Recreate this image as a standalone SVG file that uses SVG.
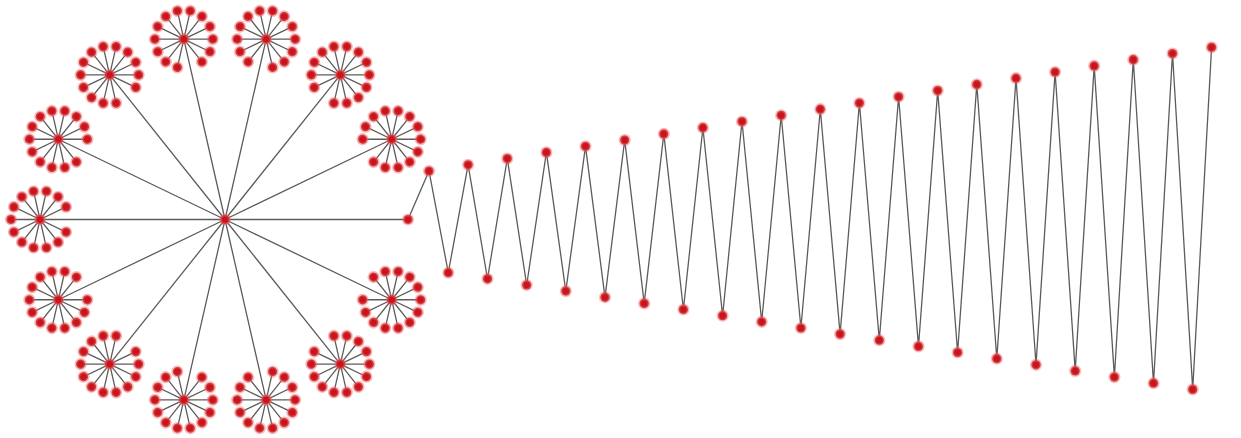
<svg xmlns="http://www.w3.org/2000/svg" xmlns:xlink="http://www.w3.org/1999/xlink" width="1241" height="438" viewBox="0 0 1241 438">
<style>
.e{stroke:#5c5c5c;stroke-width:1.3;fill:none}
.n{fill:#c8141c;stroke:#ec6b6b;stroke-opacity:0.45;stroke-width:3}
</style>
<defs>
<g id="fe">
<path class="e" d="M0 0L26.13 12.58M0 0L18.08 22.67M0 0L6.45 28.27M0 0L-6.45 28.27M0 0L-18.08 22.67M0 0L-26.13 12.58M0 0L-29 0M0 0L-26.13 -12.58M0 0L-18.08 -22.67M0 0L-6.45 -28.27M0 0L6.45 -28.27M0 0L18.08 -22.67M0 0L26.13 -12.58"/>
</g>
<g id="fn">
<circle class="n" cx="0" cy="0" r="4.6"/>
<circle class="n" cx="26.13" cy="12.58" r="4.6"/>
<circle class="n" cx="18.08" cy="22.67" r="4.6"/>
<circle class="n" cx="6.45" cy="28.27" r="4.6"/>
<circle class="n" cx="-6.45" cy="28.27" r="4.6"/>
<circle class="n" cx="-18.08" cy="22.67" r="4.6"/>
<circle class="n" cx="-26.13" cy="12.58" r="4.6"/>
<circle class="n" cx="-29" cy="0" r="4.6"/>
<circle class="n" cx="-26.13" cy="-12.58" r="4.6"/>
<circle class="n" cx="-18.08" cy="-22.67" r="4.6"/>
<circle class="n" cx="-6.45" cy="-28.27" r="4.6"/>
<circle class="n" cx="6.45" cy="-28.27" r="4.6"/>
<circle class="n" cx="18.08" cy="-22.67" r="4.6"/>
<circle class="n" cx="26.13" cy="-12.58" r="4.6"/>
</g>
</defs>
<rect width="1241" height="438" fill="#ffffff"/>
<g id="connectors">
<path class="e" d="M225 219.5L408 219.5M225 219.5L391.68 299.77M225 219.5L340.35 364.14M225 219.5L266.17 399.86M225 219.5L183.83 399.86M225 219.5L109.65 364.14M225 219.5L58.32 299.77M225 219.5L40 219.5M225 219.5L58.32 139.23M225 219.5L109.65 74.86M225 219.5L183.83 39.14M225 219.5L266.17 39.14M225 219.5L340.35 74.86M225 219.5L391.68 139.23"/>
<use xlink:href="#fe" transform="translate(391.68 299.77) rotate(205.714)"/>
<use xlink:href="#fe" transform="translate(340.35 364.14) rotate(231.429)"/>
<use xlink:href="#fe" transform="translate(266.17 399.86) rotate(257.143)"/>
<use xlink:href="#fe" transform="translate(183.83 399.86) rotate(282.857)"/>
<use xlink:href="#fe" transform="translate(109.65 364.14) rotate(308.571)"/>
<use xlink:href="#fe" transform="translate(58.32 299.77) rotate(334.286)"/>
<use xlink:href="#fe" transform="translate(40 219.5)"/>
<use xlink:href="#fe" transform="translate(58.32 139.23) rotate(25.714)"/>
<use xlink:href="#fe" transform="translate(109.65 74.86) rotate(51.429)"/>
<use xlink:href="#fe" transform="translate(183.83 39.14) rotate(77.143)"/>
<use xlink:href="#fe" transform="translate(266.17 39.14) rotate(102.857)"/>
<use xlink:href="#fe" transform="translate(340.35 74.86) rotate(128.571)"/>
<use xlink:href="#fe" transform="translate(391.68 139.23) rotate(154.286)"/>
<polyline class="e" points="408,219.5 429,171 448.3,272.7 468.1,164.8 487.5,278.8 507.3,158.6 526.7,285 546.4,152.4 565.8,291.1 585.5,146.3 605,297.3 624.7,140.1 644.2,303.4 663.8,133.9 683.4,309.5 702.9,127.7 722.6,315.7 742,121.5 761.7,321.8 781.2,115.3 800.9,328 820.3,109.2 840.1,334.1 859.4,103 879.3,340.2 898.6,96.8 918.5,346.4 937.7,90.6 957.6,352.5 976.8,84.4 996.8,358.7 1016,78.2 1036,364.8 1055.1,72 1075.2,370.9 1094.2,65.9 1114.4,377.1 1133.3,59.7 1153.5,383.2 1172.5,53.5 1192.7,389.4 1211.6,47.3"/>
</g>
<g id="nodes">
<g id="hub"><circle class="n" cx="225" cy="219.5" r="4.6"/></g>
<g id="flower1"><use xlink:href="#fn" transform="translate(391.68 299.77) rotate(205.714)"/></g>
<g id="flower2"><use xlink:href="#fn" transform="translate(340.35 364.14) rotate(231.429)"/></g>
<g id="flower3"><use xlink:href="#fn" transform="translate(266.17 399.86) rotate(257.143)"/></g>
<g id="flower4"><use xlink:href="#fn" transform="translate(183.83 399.86) rotate(282.857)"/></g>
<g id="flower5"><use xlink:href="#fn" transform="translate(109.65 364.14) rotate(308.571)"/></g>
<g id="flower6"><use xlink:href="#fn" transform="translate(58.32 299.77) rotate(334.286)"/></g>
<g id="flower7"><use xlink:href="#fn" transform="translate(40 219.5)"/></g>
<g id="flower8"><use xlink:href="#fn" transform="translate(58.32 139.23) rotate(25.714)"/></g>
<g id="flower9"><use xlink:href="#fn" transform="translate(109.65 74.86) rotate(51.429)"/></g>
<g id="flower10"><use xlink:href="#fn" transform="translate(183.83 39.14) rotate(77.143)"/></g>
<g id="flower11"><use xlink:href="#fn" transform="translate(266.17 39.14) rotate(102.857)"/></g>
<g id="flower12"><use xlink:href="#fn" transform="translate(340.35 74.86) rotate(128.571)"/></g>
<g id="flower13"><use xlink:href="#fn" transform="translate(391.68 139.23) rotate(154.286)"/></g>
<g id="chain">
<circle class="n" cx="408" cy="219.5" r="4.6"/>
<circle class="n" cx="429" cy="171" r="4.6"/>
<circle class="n" cx="448.3" cy="272.7" r="4.6"/>
<circle class="n" cx="468.1" cy="164.8" r="4.6"/>
<circle class="n" cx="487.5" cy="278.8" r="4.6"/>
<circle class="n" cx="507.3" cy="158.6" r="4.6"/>
<circle class="n" cx="526.7" cy="285" r="4.6"/>
<circle class="n" cx="546.4" cy="152.4" r="4.6"/>
<circle class="n" cx="565.8" cy="291.1" r="4.6"/>
<circle class="n" cx="585.5" cy="146.3" r="4.6"/>
<circle class="n" cx="605" cy="297.3" r="4.6"/>
<circle class="n" cx="624.7" cy="140.1" r="4.6"/>
<circle class="n" cx="644.2" cy="303.4" r="4.6"/>
<circle class="n" cx="663.8" cy="133.9" r="4.6"/>
<circle class="n" cx="683.4" cy="309.5" r="4.6"/>
<circle class="n" cx="702.9" cy="127.7" r="4.6"/>
<circle class="n" cx="722.6" cy="315.7" r="4.6"/>
<circle class="n" cx="742" cy="121.5" r="4.6"/>
<circle class="n" cx="761.7" cy="321.8" r="4.6"/>
<circle class="n" cx="781.2" cy="115.3" r="4.6"/>
<circle class="n" cx="800.9" cy="328" r="4.6"/>
<circle class="n" cx="820.3" cy="109.2" r="4.6"/>
<circle class="n" cx="840.1" cy="334.1" r="4.6"/>
<circle class="n" cx="859.4" cy="103" r="4.6"/>
<circle class="n" cx="879.3" cy="340.2" r="4.6"/>
<circle class="n" cx="898.6" cy="96.8" r="4.6"/>
<circle class="n" cx="918.5" cy="346.4" r="4.6"/>
<circle class="n" cx="937.7" cy="90.6" r="4.6"/>
<circle class="n" cx="957.6" cy="352.5" r="4.6"/>
<circle class="n" cx="976.8" cy="84.4" r="4.6"/>
<circle class="n" cx="996.8" cy="358.7" r="4.6"/>
<circle class="n" cx="1016" cy="78.2" r="4.6"/>
<circle class="n" cx="1036" cy="364.8" r="4.6"/>
<circle class="n" cx="1055.1" cy="72" r="4.6"/>
<circle class="n" cx="1075.2" cy="370.9" r="4.6"/>
<circle class="n" cx="1094.2" cy="65.9" r="4.6"/>
<circle class="n" cx="1114.4" cy="377.1" r="4.6"/>
<circle class="n" cx="1133.3" cy="59.7" r="4.6"/>
<circle class="n" cx="1153.5" cy="383.2" r="4.6"/>
<circle class="n" cx="1172.5" cy="53.5" r="4.6"/>
<circle class="n" cx="1192.7" cy="389.4" r="4.6"/>
<circle class="n" cx="1211.6" cy="47.3" r="4.6"/>
</g>
</g>
</svg>
